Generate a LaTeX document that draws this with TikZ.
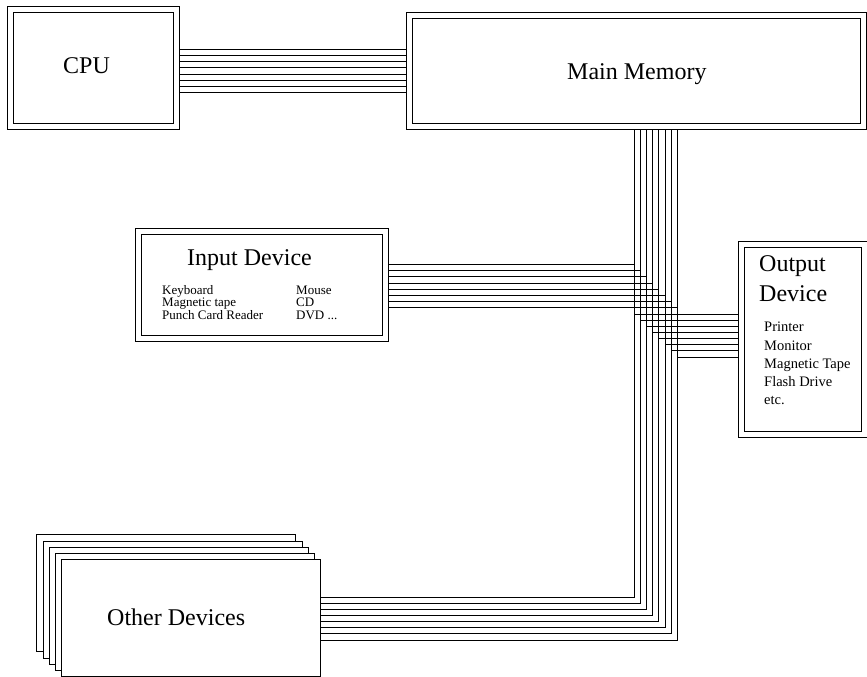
\documentclass[tikz,border=0pt]{standalone}
\usepackage{fontspec}
\setmainfont{Liberation Serif}
\usetikzlibrary{positioning}

\tikzset{
  unit/.style={draw, double, double distance=5pt, line width=1pt, outer sep=3.5pt, inner sep=0pt},
  card/.style={draw, fill=white, line width=1pt, minimum width=259pt, minimum height=117pt, inner sep=0pt},
  title/.style={font=\fontsize{24}{28}\selectfont, anchor=base west, inner sep=0pt},
  item/.style={font=\fontsize{14.5}{16}\selectfont, anchor=base west, inner sep=0pt},
  tight/.style={item, font=\fontsize{13}{14}\selectfont},
  bus/.style={line width=1pt},
}

\begin{document}
\begin{tikzpicture}[x=1pt, y=-1pt]
\useasboundingbox (0,0) rectangle (867,677);

\node[unit, minimum width=166pt, minimum height=116.5pt] (cpu) at (93,67.75) {};
\node[unit, minimum width=454pt, minimum height=110.5pt] (mem) at (636,70.75) {};
\node[unit, minimum width=246.5pt, minimum height=107.5pt] (inp) at (261.75,284.75) {};
\node[unit, minimum width=122.5pt, minimum height=190pt] (out) at (802.75,339) {};

% stack of other devices
\foreach \k in {0,...,4}
  \node[card] (card\k) at ({191.35-6.25*(4-\k)},{618.25-6.25*(4-\k)}) {};

\node[title] (cputxt) at (63,74) {CPU};
\node[title] (memtxt) at (567,80) {Main Memory};
\node[title] (inptxt) at (187,265) {Input Device};
\node[title] (outtxt) at (759,271.7) {Output};
\node[title] (outtxtb) at (759,301) {Device};
\node[title] (othtxt) at (107,625) {Other Devices};

\foreach \l/\r [count=\k from 0] in {Keyboard/Mouse, Magnetic tape/CD, Punch Card Reader/{DVD ...}} {
  \node[tight] (inl\k) at (162,{294+12.5*\k}) {\l};
  \node[tight] (inr\k) at (296,{294+12.5*\k}) {\r};
}
\foreach \t [count=\k from 0] in {Printer, Monitor, Magnetic Tape, Flash Drive, etc.}
  \node[item] (outl\k) at (764,{331.7+18.3*\k}) {\t};

% buses
\foreach \i in {0,...,7} {
  \pgfmathsetmacro{\xb}{634+6.2*\i}
  \pgfmathsetmacro{\ya}{49.3+6.2*\i}
  \pgfmathsetmacro{\yi}{264.5+6.2*\i}
  \pgfmathsetmacro{\yo}{314.3+6.1*\i}
  \pgfmathsetmacro{\yd}{597.3+6.1*\i}
  \draw[bus] (cpu.east |- 0,\ya) -- (mem.west |- 0,\ya);
  \draw[bus] (mem.south -| \xb,0) -- (\xb,\yd) -- (card4.east |- 0,\yd);
  \draw[bus] (inp.east |- 0,\yi) -- (\xb,\yi);
  \draw[bus] (\xb,\yo) -- (out.west |- 0,\yo);
}

\end{tikzpicture}
\end{document}
